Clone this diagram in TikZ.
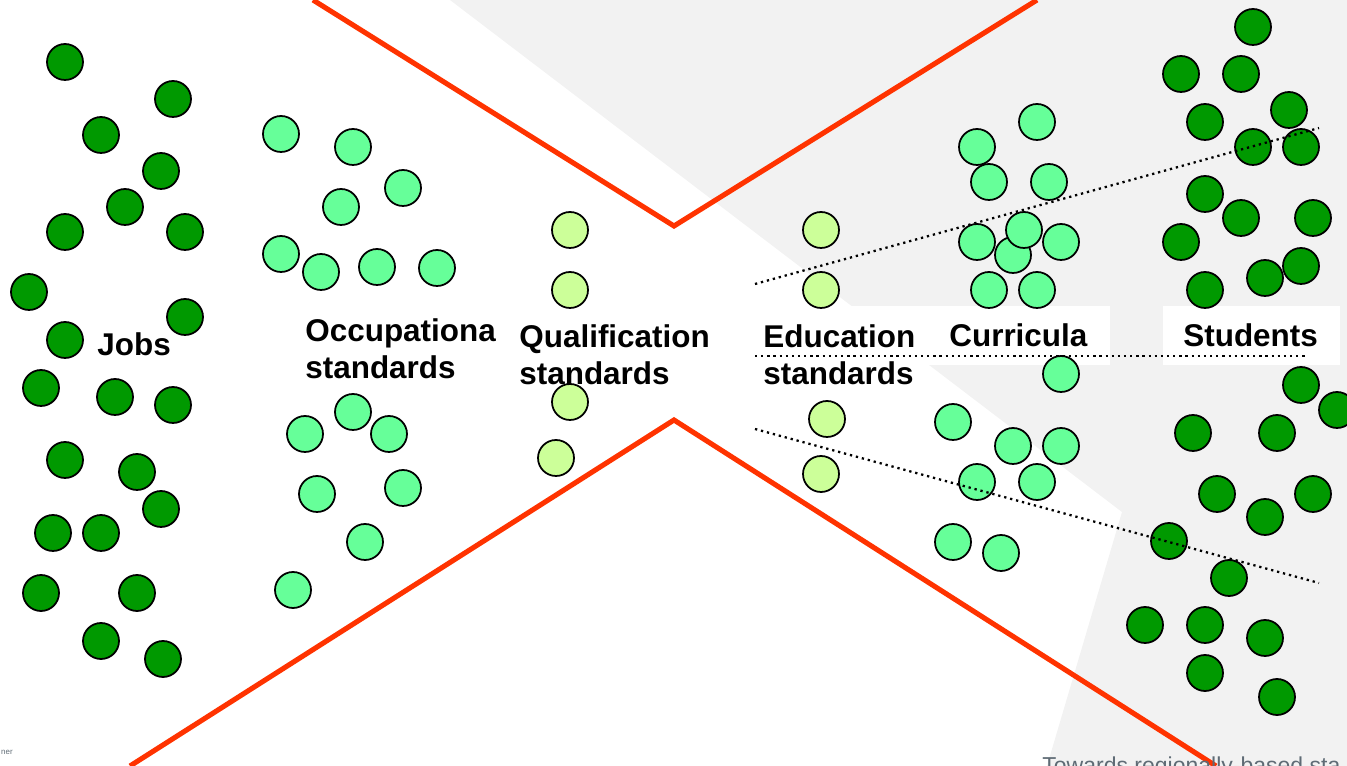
\documentclass[tikz,border=0pt]{standalone}
\usepackage{fontspec}
\setmainfont{Liberation Sans}
\usepackage{tikz}
\usetikzlibrary{positioning}
\definecolor{jobgreen}{HTML}{009900}
\definecolor{stdgreen}{HTML}{66FF99}
\definecolor{qualgreen}{HTML}{CCFF99}
\definecolor{funnelred}{HTML}{FF3300}
\definecolor{slidegray}{HTML}{F2F2F2}
\definecolor{footgray}{HTML}{5F6B75}
\begin{document}
\begin{tikzpicture}[line cap=round,line join=round,x=0.02cm,y=-0.02cm,
  dot/.style={circle,draw=black,line width=1pt,inner sep=0pt,minimum size=0.72cm},
  jobdot/.style={dot,fill=jobgreen},
  stddot/.style={dot,fill=stdgreen},
  qualdot/.style={dot,fill=qualgreen},
  lbl/.style={font=\bfseries\fontsize{17.9}{21.6}\selectfont,inner sep=0pt,align=left,anchor=base west},
  funnel/.style={color=funnelred,line width=2.9pt,line cap=butt,line join=miter},
  divider/.style={line width=1.3pt,line cap=butt,dash pattern=on 1.3pt off 2.2pt}]
\useasboundingbox (0,0) rectangle (1347,766);
\clip (0,0) rectangle (1347,766);
% background
\fill[slidegray] (450,0) -- (1122,512) -- (1047,766) -- (1347,766) -- (1347,0) -- cycle;
\fill[white] (840,306) rectangle (1110,365);
\fill[white] (1163,306) rectangle (1340,365);
% funnel
\coordinate (ul) at (313,0);
\coordinate (uv) at (674,226);
\coordinate (ur) at (1037,0);
\coordinate (ll) at (130,766);
\coordinate (lv) at (674,420);
\coordinate (lr) at (1216,766);
\draw[funnel] (ul) -- (uv) -- (ur);
\draw[funnel] (ll) -- (lv) -- (lr);
% jobs
\foreach \x/\y [count=\i] in {65/62,173/99,101/135,161/171,125/207,65/232,185/232,29/292,185/317,65/340,41/388,115/397,173/405,65/460,137/472,161/509,53/533,101/533,41/593,137/593,101/641,163/659}
\node[jobdot] (job\i) at (\x,\y) {};
% occupational standards
\foreach \x/\y [count=\i] in {281/134,353/147,403/188,341/207,281/254,321/272,377/267,437/268,353/412,305/434,389/434,317/494,403/488,365/542,293/590}
\node[stddot] (occ\i) at (\x,\y) {};
% qualification and education standards
\foreach \x/\y [count=\i] in {570/230,570/290,570/402,556/458}
\node[qualdot] (qual\i) at (\x,\y) {};
\foreach \x/\y [count=\i] in {821/230,821/290,827/419,821/474}
\node[qualdot] (edu\i) at (\x,\y) {};
% curricula
\foreach \x/\y [count=\i] in {1037/122,977/147,989/182,1049/182,977/242,1061/242,1013/255,1024/230,989/290,1037/290,1061/374,953/422,1013/446,1061/446,977/482,1037/482,953/542,1001/553}
\node[stddot] (cur\i) at (\x,\y) {};
% students
\foreach \x/\y [count=\i] in {1253/27,1181/74,1241/74,1289/110,1205/122,1253/147,1301/147,1205/194,1241/218,1313/218,1181/242,1265/278,1301/266,1205/290,1301/385,1337/410,1193/433,1277/433,1217/494,1313/494,1265/517,1169/541,1229/578,1145/625,1205/625,1265/638,1205/673,1277/697}
\node[jobdot] (stu\i) at (\x,\y) {};
% dotted dividers
\coordinate (dta) at (755,284);
\coordinate (dtb) at (1319,128);
\coordinate (dma) at (755,356);
\coordinate (dmb) at (1305,356);
\coordinate (dba) at (755,429);
\coordinate (dbb) at (1319,583);
\draw[divider] (dta) -- (dtb);
\draw[divider] (dma) -- (dmb);
\draw[divider] (dba) -- (dbb);
% labels (base = last line)
\node[lbl] (jobs) at (97,356) {Jobs};
\node[lbl] (occlbl) at (305,379) {Occupationa\\standards};
\node[lbl] (quallbl) at (519,385) {Qualification\\standards};
\node[lbl] (edulbl) at (763,385) {Education\\standards};
\node[lbl] (curlbl) at (949,347) {Curricula};
\node[lbl] (stulbl) at (1183,347) {Students};
% footer
\node[anchor=base west,inner sep=0pt,text=footgray,font=\fontsize{13.1}{15}\selectfont] (footer) at (1042,774) {Towards regionally-based sta};
\node[anchor=base east,inner sep=0pt,text=footgray,font=\fontsize{4.5}{5}\selectfont] (logo) at (13,755) {ner};
\end{tikzpicture}
\end{document}
